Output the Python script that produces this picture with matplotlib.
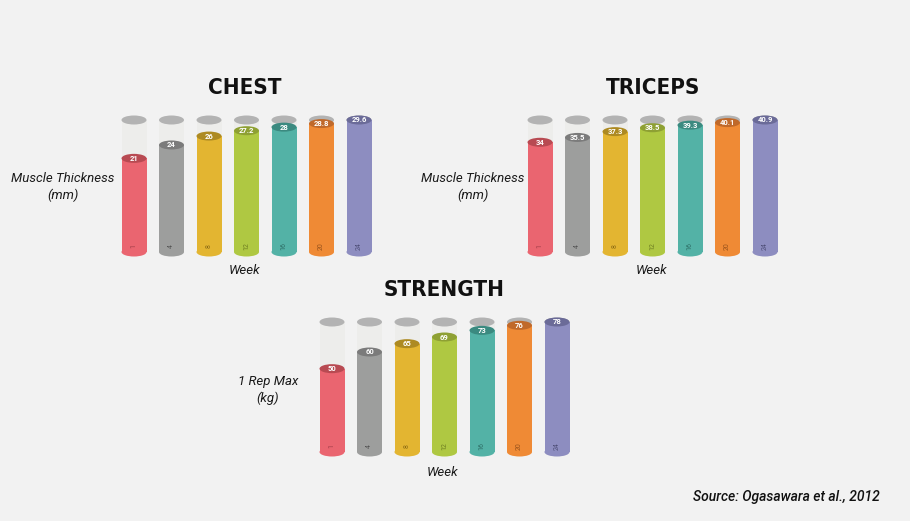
import matplotlib
matplotlib.use("Agg")
import matplotlib.pyplot as plt
from matplotlib.patches import Rectangle, Ellipse
from matplotlib import font_manager as fm

weeks = ["1", "4", "8", "12", "16", "20", "24"]
chest = [21, 24, 26, 27.2, 28, 28.8, 29.6]
triceps = [34, 35.5, 37.3, 38.5, 39.3, 40.1, 40.9]
strength = [50, 60, 65, 69, 73, 76, 78]

colors = ["#ea6570", "#9d9e9d", "#e3b531", "#afc842", "#53b2a6", "#ef8a35", "#8d8dc0"]
dark = ["#b84a52", "#7b7b7b", "#ad8a22", "#8ea033", "#3b8a80", "#c0692a", "#6b6b98"]
weekc = ["#a03d47", "#555555", "#8a6a15", "#6d7d22", "#2e6e66", "#99531c", "#4f4f78"]

BG = "#f2f2f2"
W, H = 910, 521
fig = plt.figure(figsize=(W / 100, H / 100), dpi=100, facecolor=BG)


def find_condensed(italic=False):
    for f in fm.fontManager.ttflist:
        name = f.fname.lower()
        if not ("condensed" in name or "narrow" in name):
            continue
        if "bold" not in name:
            continue
        is_it = ("italic" in name or "oblique" in name)
        if is_it != italic:
            continue
        if "light" in name or "semi" in name or "extra" in name:
            continue
        return f.fname
    return None


cond = find_condensed(False)
TITLE_PROPS = (fm.FontProperties(fname=cond, size=16) if cond
               else fm.FontProperties(family="DejaVu Sans", weight="bold", size=14))
SOURCE_PROPS = fm.FontProperties(family=["Roboto", "DejaVu Sans"], style="italic",
                                 weight="medium", size=10)
LABEL_FONT = ["Roboto", "DejaVu Sans"]


def panel(values, cx0, y0px, y1px, title, tx, ty, ylabel, lx, ly, wx, wy):
    spacing = 37.5
    left = cx0 - spacing / 2
    width = spacing * len(values)
    ax = fig.add_axes([left / W, (H - y0px) / H, width / W, (y0px - y1px) / H])
    ax.set_facecolor("none")
    vmax = max(values)
    ax.set_xlim(-0.5, len(values) - 0.5)
    ax.set_ylim(0, vmax)
    ax.axis("off")
    px = vmax / (y0px - y1px)  # data units per pixel
    bw = 25 / spacing
    eh = 9 * px
    for i, v in enumerate(values):
        # empty tube
        ax.add_patch(Rectangle((i - bw / 2, v), bw, vmax - v, facecolor="#ebebe7",
                               edgecolor="none", alpha=0.6, clip_on=False, zorder=1))
        ax.add_patch(Ellipse((i, vmax), bw, eh, facecolor="#b3b3b3", edgecolor="none",
                             clip_on=False, zorder=2))
        # filled bar
        ax.add_patch(Ellipse((i, 0), bw, eh, facecolor=colors[i], edgecolor="none",
                             clip_on=False, zorder=3))
        ax.add_patch(Rectangle((i - bw / 2, 0), bw, v, facecolor=colors[i],
                               edgecolor="none", clip_on=False, zorder=3))
        ax.add_patch(Ellipse((i, v), bw, eh, facecolor=dark[i], edgecolor="none",
                             clip_on=False, zorder=4))
        ax.text(i, v, f"{v:g}", ha="center", va="center", color="white",
                fontsize=5.5, fontweight="bold", zorder=5, family=LABEL_FONT)
        ax.text(i, 6 * px, weeks[i], ha="center", va="center", rotation=90,
                color=weekc[i], fontsize=5, zorder=5, family=LABEL_FONT)
    fig.text(tx / W, 1 - ty / H, title, ha="center", va="center",
             fontproperties=TITLE_PROPS, color="#111111")
    fig.text(lx / W, 1 - ly / H, ylabel, ha="center", va="center", fontsize=9.5,
             style="italic", fontweight="normal", family=LABEL_FONT, color="#1a1a1a",
             linespacing=1.3)
    fig.text(wx / W, 1 - wy / H, "Week", ha="center", va="center", fontsize=9.5,
             style="italic", fontweight="normal", family=LABEL_FONT, color="#1a1a1a")
    return ax


panel(chest, 134, 252, 120, "CHEST", 245, 88, "Muscle Thickness\n(mm)", 63, 187, 245, 270)
panel(triceps, 540, 252, 120, "TRICEPS", 653, 88, "Muscle Thickness\n(mm)", 473, 187, 652, 270)
panel(strength, 332, 452, 322, "STRENGTH", 444, 290, "1 Rep Max\n(kg)", 268, 390, 443, 472)

fig.text(880 / W, 1 - 497 / H, "Source: Ogasawara et al., 2012", ha="right", va="center",
         fontproperties=SOURCE_PROPS, color="#111111")

fig.savefig("out.png", dpi=100, facecolor=BG)
